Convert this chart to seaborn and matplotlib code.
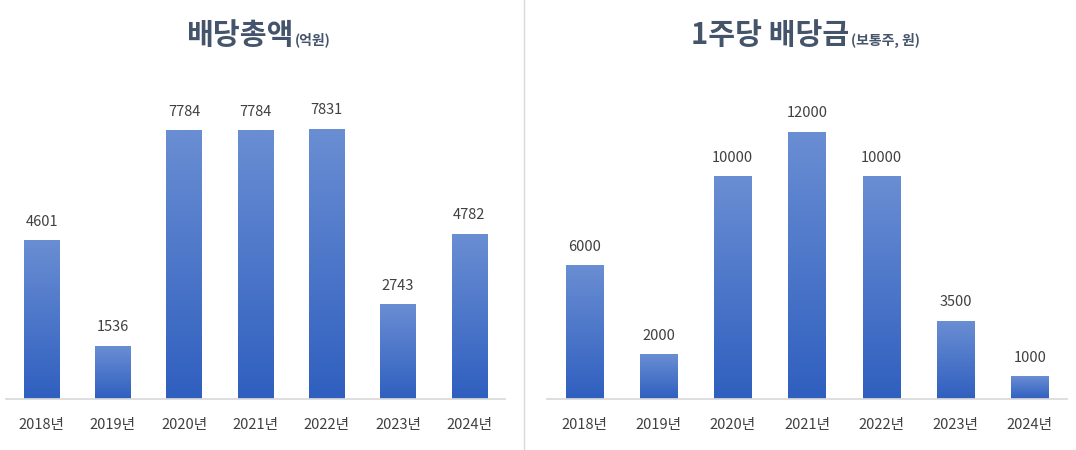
import matplotlib
matplotlib.use("Agg")
import matplotlib.pyplot as plt
import seaborn as sns
import numpy as np
import pandas as pd
from matplotlib.patches import Rectangle
from matplotlib.lines import Line2D

sns.set_theme(style="white")
plt.rcParams['font.family'] = ['Noto Sans CJK KR', 'DejaVu Sans']

years = ["2018년", "2019년", "2020년", "2021년", "2022년", "2023년", "2024년"]
total_div = [4601, 1536, 7784, 7784, 7831, 2743, 4782]
per_share = [6000, 2000, 10000, 12000, 10000, 3500, 1000]

fig = plt.figure(figsize=(10.76, 4.5), dpi=100)
W, H = 1076, 450
grad = np.linspace(0, 1, 256).reshape(-1, 1)
cmap = matplotlib.colors.LinearSegmentedColormap.from_list("g", ["#2f5fbf", "#6a8ed3"])

def panel(x0, x1, vals, ymax):
    ax = fig.add_axes([x0 / W, 1 - 399 / H, (x1 - x0) / W, 339 / H])
    df = pd.DataFrame({"y": years, "v": vals})
    sns.barplot(data=df, x="y", y="v", ax=ax, color="#4472c4", width=0.5, saturation=1)
    for p in ax.patches:
        x, y0, w, h = p.get_x(), p.get_y(), p.get_width(), p.get_height()
        p.set_visible(False)
        im = ax.imshow(grad, cmap=cmap, aspect="auto", extent=[x, x + w, y0, y0 + h],
                       origin="lower", zorder=2)
        ax.text(x + w / 2, y0 + h + ymax * 0.035, f"{int(vals[int(round(x + w / 2))])}",
                ha="center", va="bottom", fontsize=10.5, color="#404040")
    ax.set_xlim(-0.5, 6.5)
    ax.set_ylim(0, ymax)
    ax.set_xlabel(""); ax.set_ylabel("")
    ax.set_yticks([])
    for s in ["top", "right", "left"]:
        ax.spines[s].set_visible(False)
    ax.spines["bottom"].set_color("#d9d9d9")
    ax.tick_params(axis="x", length=0, labelsize=10.5, labelcolor="#404040", pad=14)
    return ax

panel(6, 505, total_div, 7831 * 339 / 270)
panel(547, 1067, per_share, 12000 * 339 / 267)

fig.add_artist(Line2D([524 / W, 524 / W], [0, 1], color="#d9d9d9", lw=1))

def title(cx, big, small):
    t1 = fig.text(0, 1 - 35 / H, big, fontsize=21, fontweight="bold", color="#44546a", va="center")
    t2 = fig.text(0, 1 - 40 / H, small, fontsize=10, fontweight="bold", color="#44546a", va="center")
    fig.canvas.draw()
    r = fig.canvas.get_renderer()
    w1 = t1.get_window_extent(r).width
    w2 = t2.get_window_extent(r).width
    start = cx - (w1 + w2) / 2
    t1.set_x(start / W)
    t2.set_x((start + w1 + 1) / W)

title(258, "배당총액", "(억원)")
title(805, "1주당 배당금", "(보통주, 원)")

fig.savefig("out.png", dpi=100)
